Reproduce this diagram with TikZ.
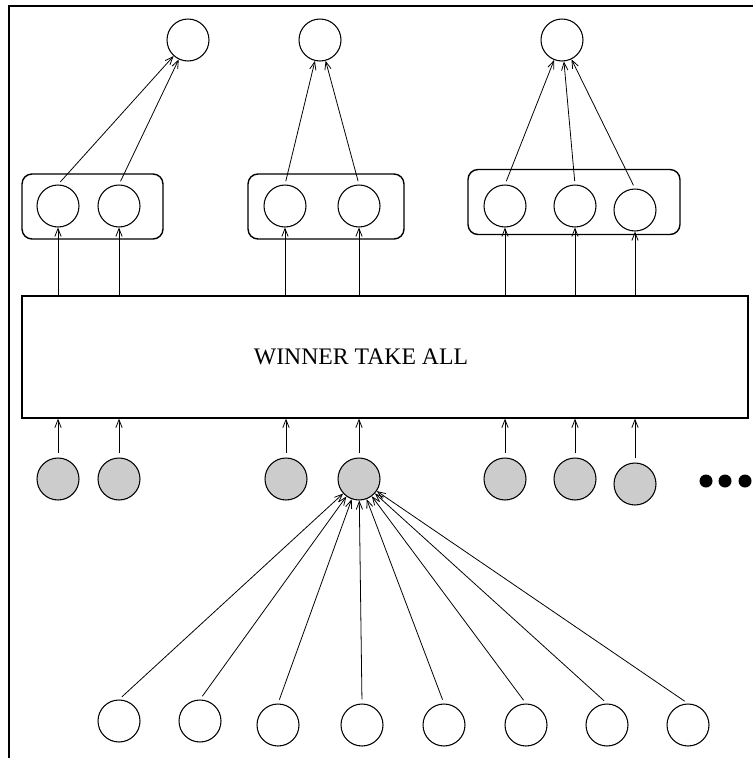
\documentclass[tikz,border=0pt]{standalone}
\usepackage{fontspec}
\setmainfont{Liberation Serif}
\usetikzlibrary{arrows.meta}

\begin{document}
\begin{tikzpicture}[x=0.02cm,y=-0.02cm,>={Straight Barb[length=4.5pt,width=3.6pt]},line width=0.6pt,
  unit/.style={circle,draw,minimum size=0.84cm,inner sep=0pt},
  hid/.style={unit,fill=black!20},
  grp/.style={draw,rounded corners=0.2cm,line width=0.8pt,minimum height=1.3cm},
  dot/.style={circle,fill,minimum size=0.26cm,inner sep=0pt},
  link/.style={->,line width=0.45pt}]
  \useasboundingbox (0,0) rectangle (753,758);
  \draw[line width=0.8pt] (753,6) -- (9,6) -- (9,758);

  % output units
  \node[unit] (o1) at (188,40) {};
  \node[unit] (o2) at (320,40) {};
  \node[unit] (o3) at (562,40) {};

  % groups of winner units
  \node[grp,minimum width=2.82cm] (g1) at (92.5,206.5) {};
  \node[grp,minimum width=3.12cm] (g2) at (326,206.5) {};
  \node[grp,minimum width=4.24cm] (g3) at (574,202) {};
  \foreach \i/\x/\y in {1/58/206,2/119/206,3/285/206,4/359/206,5/505/206,6/575/206,7/635/210}
    \node[unit] (m\i) at (\x,\y) {};

  \node[draw,line width=0.8pt,minimum width=14.52cm,minimum height=2.44cm] (wta) at (385,357) {};
  \node[font=\fontsize{13.5}{16}\selectfont] (lbl) at (361,357) {WINNER TAKE ALL};

  % hidden units
  \foreach \i/\x/\y in {1/58/479,2/119/479,3/286/479,4/359/479,5/505/479,6/575/479,7/635/484}
    \node[hid] (h\i) at (\x,\y) {};
  \node[dot] (d1) at (706,481) {};
  \node[dot] (d2) at (725,481) {};
  \node[dot] (d3) at (745,481) {};

  % input units
  \foreach \i/\x/\y in {1/119/721,2/200/721,3/278/725,4/362/725,5/444/725,6/526/725,7/607/725,8/688/725}
    \node[unit] (in\i) at (\x,\y) {};

  \foreach \a/\b in {m1/o1,m2/o1,m3/o2,m4/o2,m5/o3,m6/o3,m7/o3}
    \draw[link,shorten <=2pt] (\a.north) -- (\b);
  \foreach \i in {1,...,7} {
    \draw[link] (wta.north -| m\i) -- (m\i);
    \draw[link,shorten <=2.3pt] (h\i) -- (h\i |- wta.south);
  }
  \foreach \i in {1,...,8}
    \draw[link,shorten <=2.3pt] (in\i.north) -- (h4);
\end{tikzpicture}
\end{document}
